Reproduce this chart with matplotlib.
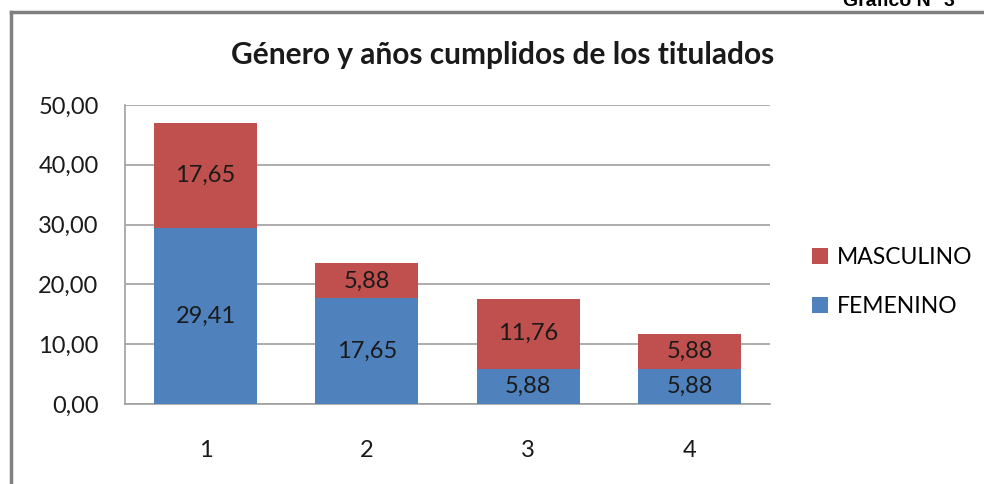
import numpy as np
import matplotlib.pyplot as plt
from matplotlib.lines import Line2D

plt.rcParams['font.family'] = ['Lato', 'DejaVu Sans']

categorias = ['1', '2', '3', '4']
femenino = [29.41, 17.65, 5.88, 5.88]
masculino = [17.65, 5.88, 11.76, 5.88]
etiquetas_y = ['0,00', '10,00', '20,00', '30,00', '40,00', '50,00']

azul = '#4F81BD'
rojo = '#C0504D'

fig = plt.figure(figsize=(9.84, 4.84), dpi=100)
W, H = 984, 484

# marco del grafico (recortado como en la captura)
fig.add_artist(Line2D([11 / W, 11 / W], [0, 1 - 12 / H], color='#808080', lw=2.5))
fig.add_artist(Line2D([11 / W, 1], [1 - 12 / H, 1 - 12 / H], color='#808080', lw=2.5))
fig.text(955 / W, 1 - 6 / H, 'Gráfico N° 3', family='Liberation Sans', weight='bold',
         fontsize=14, ha='right', va='baseline')

ax = fig.add_axes([125 / W, 1 - 404 / H, 645 / W, 299 / H])
x = np.arange(1, len(categorias) + 1)
ancho = 0.64
ax.bar(x, femenino, ancho, color=azul, label='FEMENINO', zorder=3)
ax.bar(x, masculino, ancho, bottom=femenino, color=rojo, label='MASCULINO', zorder=3)

for xi, f, m in zip(x, femenino, masculino):
    ax.text(xi, f / 2, f'{f:.2f}'.replace('.', ','), ha='center', va='center',
            fontsize=17, color='#1a1a1a', zorder=4)
    ax.text(xi, f + m / 2, f'{m:.2f}'.replace('.', ','), ha='center', va='center',
            fontsize=17, color='#1a1a1a', zorder=4)

ax.set_xlim(0.5, 4.5)
ax.set_ylim(0, 50)
ax.set_yticks(np.arange(0, 51, 10))
ax.set_yticklabels(etiquetas_y)
ax.set_xticks(x)
ax.set_xticklabels(categorias)
ax.tick_params(axis='both', length=0, labelsize=17, colors='#1a1a1a')
ax.tick_params(axis='y', pad=19)
ax.tick_params(axis='x', pad=26)
ax.grid(axis='y', color='#a0a0a0', lw=1.2, zorder=0)
for s in ['top', 'right']:
    ax.spines[s].set_visible(False)
for s in ['left', 'bottom']:
    ax.spines[s].set_color('#a0a0a0')
    ax.spines[s].set_linewidth(1.2)

fig.text(503 / W, 1 - 55 / H, 'Género y años cumplidos de los titulados',
         ha='center', va='center', fontsize=21.5, weight='bold', color='#1a1a1a')

h, l = ax.get_legend_handles_labels()
fig.legend(h[::-1], l[::-1], loc='center left', bbox_to_anchor=(791 / W, 1 - 282 / H),
           frameon=False, fontsize=16.5, handlelength=0.7, handleheight=0.7,
           handletextpad=0.4, labelspacing=1.2)

fig.savefig('out.png', dpi=100)
